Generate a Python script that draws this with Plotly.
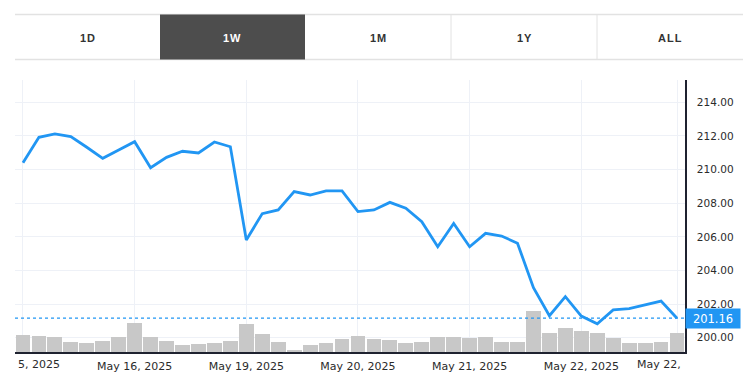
import plotly.graph_objects as go

# ---- data ----
idx = list(range(42))
price = [210.41, 211.92, 212.12, 211.96, 211.33, 210.67, 211.17, 211.66, 210.11, 210.73,
         211.09, 210.99, 211.64, 211.36, 205.81, 207.38, 207.60, 208.69, 208.49, 208.73,
         208.73, 207.50, 207.60, 208.05, 207.70, 206.90, 205.41, 206.80, 205.41, 206.21,
         206.05, 205.62, 202.97, 201.31, 202.44, 201.29, 200.83, 201.65, 201.73, 201.95,
         202.18, 201.16]
volume = [17, 16, 15, 10, 9, 11, 15, 29, 15, 11, 7, 8, 9, 11, 28, 18, 10, 2, 7, 9,
          13, 16, 13, 12, 9, 10, 15, 15, 14, 15, 10, 10, 41, 19, 24, 21, 19, 14, 9, 9,
          10, 19]
tick_idx = [0, 7, 14, 21, 28, 35, 41]
tick_text = ["", "May 16, 2025", "May 19, 2025", "May 20, 2025", "May 21, 2025", "May 22, 2025", ""]
left_clip_label = "5, 2025"
right_clip_label = "May 22,"
y_ticks = [200, 202, 204, 206, 208, 210, 212, 214]
buttons = ["1D", "1W", "1M", "1Y", "ALL"]
active_button = "1W"

BLUE = "#2196F3"
GRID = "#eef1f7"
AX = "#1f2230"
TXT = "#2b2b2b"
FONT = "DejaVu Sans"

fig = go.Figure()
fig.add_trace(go.Bar(x=idx, y=volume, yaxis="y2", marker=dict(color="#c8c8c8", line=dict(width=0)),
                     width=0.93, hoverinfo="skip", showlegend=False))
fig.add_trace(go.Scatter(x=idx, y=price, mode="lines", line=dict(color=BLUE, width=2.8),
                         showlegend=False))

last = price[-1]
fig.add_shape(type="line", xref="paper", yref="y", x0=0, x1=1, y0=last, y1=last,
              line=dict(color=BLUE, width=1.2, dash="dot"), layer="above")

fig.add_annotation(xref="paper", yref="y", x=1, y=last, xanchor="left", yanchor="middle",
                   text=f"{last:.2f}", showarrow=False, bgcolor=BLUE, width=52, height=17,
                   font=dict(family=FONT, size=11.5, color="white"), align="center")

# clipped end labels of the x axis
fig.add_annotation(xref="paper", yref="paper", x=0, y=0, xanchor="left", yanchor="top", yshift=-4,
                   xshift=1, text=left_clip_label, showarrow=False,
                   font=dict(family=FONT, size=11, color=TXT))
fig.add_annotation(xref="paper", yref="paper", x=1, y=0, xanchor="right", yanchor="top", yshift=-4,
                   xshift=-2, text=right_clip_label, showarrow=False,
                   font=dict(family=FONT, size=11, color=TXT))

# range selector buttons (positions given in page pixels, converted to paper coords)
PW, PH = 670.0, 272.0
def px(xp):
    return (xp - 15) / PW
def py(yp):
    return (352 - yp) / PH
bx = [15, 160, 305, 451, 597, 743]
ytop, ybot = py(14.5), py(59.5)
fig.add_shape(type="line", xref="paper", yref="paper", x0=px(15), x1=px(743), y0=ytop, y1=ytop,
              line=dict(color="#e2e2e2", width=1.5))
fig.add_shape(type="line", xref="paper", yref="paper", x0=px(15), x1=px(743), y0=ybot, y1=ybot,
              line=dict(color="#e2e2e2", width=1.5))
for i, lab in enumerate(buttons):
    x0, x1 = bx[i], bx[i + 1]
    if lab == active_button:
        fig.add_shape(type="rect", xref="paper", yref="paper", x0=px(x0), x1=px(x1), y0=ybot, y1=ytop,
                      fillcolor="#4d4d4d", line=dict(width=0))
    elif i > 0 and buttons[i - 1] != active_button:
        fig.add_shape(type="line", xref="paper", yref="paper", x0=px(x0), x1=px(x0), y0=ybot, y1=ytop,
                      line=dict(color="#e2e2e2", width=1))
    fig.add_annotation(xref="paper", yref="paper", x=px((x0 + x1) / 2), y=py(37.5), showarrow=False,
                       xanchor="center", yanchor="middle",
                       text=f'<b><span style="letter-spacing:1px">{lab}</span></b>',
                       font=dict(family="Liberation Sans", size=11,
                                 color="white" if lab == active_button else "#333333"))

fig.update_layout(
    width=756, height=379,
    margin=dict(l=15, r=71, t=80, b=27),
    paper_bgcolor="white", plot_bgcolor="white",
    bargap=0,
    xaxis=dict(range=[-0.5, 41.5], tickmode="array", tickvals=tick_idx, ticktext=tick_text,
               showgrid=True, gridcolor=GRID, gridwidth=1, zeroline=False, automargin=False,
               showline=True, linecolor=AX, linewidth=1.5, ticks="", ticklabelstandoff=3,
               tickfont=dict(family=FONT, size=11, color=TXT), fixedrange=True),
    yaxis=dict(range=[199.15, 215.33], side="right", tickmode="array", tickvals=y_ticks,
               tickformat=".2f", showgrid=True, gridcolor=GRID, gridwidth=1, zeroline=False,
               automargin=False,
               showline=True, linecolor=AX, linewidth=1.5, ticks="", ticklabelstandoff=8,
               tickfont=dict(family=FONT, size=10.5, color=TXT)),
    yaxis2=dict(range=[0, 272], overlaying="y", visible=False),
)

# remove the browser's default 8px page margin so the figure fills the window
fig.write_html("out.html", config={"displayModeBar": False},
               post_script="document.body.style.margin='0';")
